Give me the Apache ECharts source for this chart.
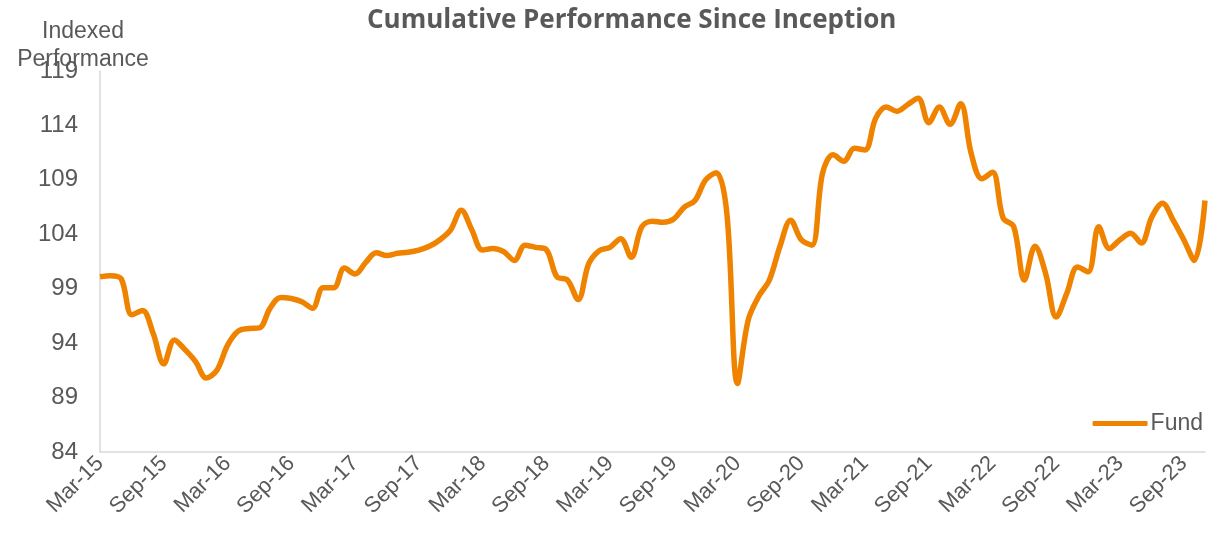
<!DOCTYPE html>
<html>
<head>
<meta charset="utf-8">
<script src="https://cdn.jsdelivr.net/npm/echarts@6/dist/echarts.min.js"></script>
<style>
  html, body { margin: 0; padding: 0; background: #fff; }
  #chart { width: 1208px; height: 540px; }
</style>
</head>
<body>
<div id="chart"></div>
<script>
// monthly points, Mar-15 .. Nov-23
const monthNames = ["Jan", "Feb", "Mar", "Apr", "May", "Jun", "Jul", "Aug", "Sep", "Oct", "Nov", "Dec"];
const categories = [];
for (let y = 15; y <= 23; y++) {
  for (let m = 0; m < 12; m++) {
    if (y === 15 && m < 2) continue;
    if (y === 23 && m > 10) continue;
    categories.push(monthNames[m] + "-" + y);
  }
}

const fund = [
  100.1, 100.2, 99.9, 96.6, 97.0, 94.9, 92.1, 94.3, 93.4, 92.3,
  90.8, 91.5, 93.8, 95.1, 95.35, 95.4, 97.2, 98.2, 98.1, 97.8,
  97.2, 99.1, 99.1, 100.9, 100.35, 101.4, 102.3, 102.05, 102.25, 102.35,
  102.55, 102.9, 103.5, 104.4, 106.2, 104.4, 102.55, 102.7, 102.4, 101.6,
  103.0, 102.8, 102.6, 100.1, 99.8, 98.0, 101.3, 102.5, 102.8, 103.6,
  101.9, 104.7, 105.2, 105.1, 105.4, 106.5, 107.1, 109.0, 109.65, 105.9,
  90.3, 96.1, 98.3, 99.8, 102.9, 105.3, 103.5, 103.0, 109.6, 111.3,
  110.7, 111.9, 111.75, 114.65, 115.7, 115.3, 115.9, 116.5, 114.25, 115.7,
  114.1, 116.0, 111.4, 109.1, 109.7, 105.5, 104.7, 99.8, 102.9, 100.4,
  96.4, 98.6, 101.0, 100.55, 104.7, 102.7, 103.5, 104.1, 103.2, 105.6,
  106.85, 105.3, 103.5, 101.6, 107.1
];

const yTicks = { min: 84, max: 119, step: 5 };
const gray = "#595959";

const chart = echarts.init(document.getElementById("chart"));
const option = {
  backgroundColor: "#fff",
  animation: false,
  title: [
    {
      text: "Cumulative Performance Since Inception",
      left: 362,
      top: 3,
      textStyle: { fontFamily: "Open Sans", fontWeight: "bold", fontSize: 26, color: gray },
    },
    {
      text: "Indexed\nPerformance",
      left: 78,
      top: 13,
      textAlign: "center",
      textStyle: { fontFamily: "Liberation Sans", fontWeight: "normal", fontSize: 23, color: gray, lineHeight: 28 },
    },
  ],
  legend: {
    right: 0,
    top: 407,
    data: ["Fund"],
    itemWidth: 55,
    itemHeight: 5,
    itemGap: 4,
    icon: "roundRect",
    textStyle: { fontFamily: "Liberation Sans", fontSize: 23, color: gray, padding: [0, 0, 0, -2] },
  },
  grid: { left: 100, right: 3, top: 71, bottom: 88 },
  xAxis: {
    type: "category",
    data: categories,
    boundaryGap: false,
    axisTick: { show: false },
    axisLine: { lineStyle: { color: "#d9d9d9", width: 1.5 } },
    axisLabel: {
      interval: 5,
      rotate: 45,
      margin: 8,
      fontFamily: "Liberation Sans",
      fontSize: 22,
      color: gray,
    },
  },
  yAxis: {
    type: "value",
    min: yTicks.min,
    max: yTicks.max,
    interval: yTicks.step,
    splitLine: { show: false },
    axisTick: { show: false },
    axisLine: { show: true, lineStyle: { color: "#d9d9d9", width: 1.5 } },
    axisLabel: { margin: 22, fontFamily: "Liberation Sans", fontSize: 24, color: gray },
  },
  series: [
    {
      name: "Fund",
      type: "line",
      data: fund,
      smooth: 0.35,
      symbol: "none",
      lineStyle: { color: "#EF8300", width: 5.5 },
      itemStyle: { color: "#EF8300" },
    },
  ],
};
chart.setOption(option);
</script>
</body>
</html>
